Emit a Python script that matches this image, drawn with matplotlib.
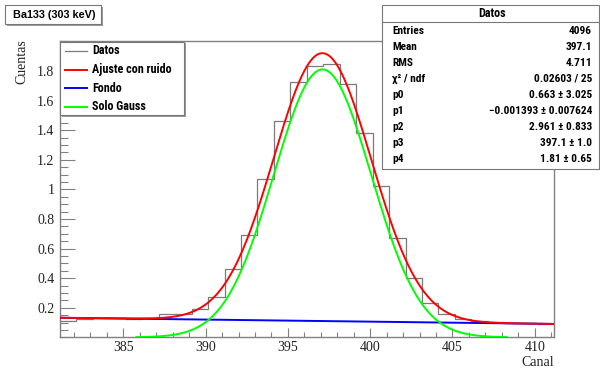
import numpy as np
import matplotlib
matplotlib.use("Agg")
import matplotlib.pyplot as plt
from matplotlib.patches import Rectangle
from matplotlib.lines import Line2D
from matplotlib.ticker import MultipleLocator, FixedLocator

# ---- data ----------------------------------------------------------------
first_edge = 381.15          # low edge of the first bin (bin width = 1 channel)
counts = [0.110, 0.125, 0.128, 0.133, 0.125, 0.133, 0.155, 0.157, 0.190, 0.274,
          0.459, 0.691, 1.068, 1.461, 1.728, 1.831, 1.847, 1.713, 1.378, 1.022,
          0.669, 0.399, 0.230, 0.160, 0.126, 0.112, 0.105, 0.098, 0.095, 0.092]

# fit parameters: p0 + p1*x  +  p4*exp(-0.5*((x-p3)/p2)^2)
p0, p1, p2, p3, p4 = 0.663, -0.001393, 2.961, 397.1, 1.81
fit_range = (381.15, 411.17)
gauss_range = (385.8, 408.3)

x_ticks = [385, 390, 395, 400, 405, 410]
y_ticks = [0.2, 0.4, 0.6, 0.8, 1.0, 1.2, 1.4, 1.6, 1.8]
y_tick_labels = ["0.2", "0.4", "0.6", "0.8", "1", "1.2", "1.4", "1.6", "1.8"]

title_text = "Ba133 (303 keV)"
legend_labels = ["Datos", "Ajuste con ruido", "Fondo", "Solo Gauss"]
stats_title = "Datos"
stats_names = ["Entries", "Mean", "RMS", "\u03c7\u00b2 / ndf", "p0", "p1", "p2", "p3", "p4"]
stats_values = ["4096", "397.1", "4.711", "0.02603 / 25",
                "0.663 \u00b1 3.025", "\u22120.001393 \u00b1 0.007624",
                "2.961 \u00b1 0.833", "397.1 \u00b1 1.0", "1.81 \u00b1 0.65"]

# ---- figure ---------------------------------------------------------------
W, H = 600, 371
fig = plt.figure(figsize=(W / 100, H / 100), dpi=100)
fig.patch.set_facecolor("white")


def fx(x):
    return x / W


def fy(y):
    return 1 - y / H


ax = fig.add_axes([fx(60), fy(337.3), fx(554) - fx(60), fy(41.3) - fy(337.3)])
ax.set_xlim(fit_range)
ax.set_ylim(0, 2.0)

frame_col = "#808080"
for s in ax.spines.values():
    s.set_color(frame_col)
    s.set_linewidth(1.0)

edges = first_edge + np.arange(len(counts) + 1)
ax.stairs(counts, edges, baseline=None, color="#7a7a7a", lw=0.9, zorder=2)

xs = np.linspace(*fit_range, 600)
bkg = p0 + p1 * xs
gauss = lambda x: p4 * np.exp(-0.5 * ((x - p3) / p2) ** 2)
xg = np.linspace(*gauss_range, 500)

line_w = 1.4
ax.plot(xs, bkg + gauss(xs), color="#ff0000", lw=line_w, zorder=4)
ax.plot(xs, bkg, color="#0000ff", lw=line_w, zorder=3)
ax.plot(xg, gauss(xg), color="#00ff00", lw=line_w, zorder=3)

# ticks: inside, only on left and bottom
ax.xaxis.set_major_locator(FixedLocator(x_ticks))
ax.xaxis.set_minor_locator(MultipleLocator(1))
ax.yaxis.set_major_locator(FixedLocator(y_ticks))
ax.yaxis.set_minor_locator(MultipleLocator(0.05))
ax.set_yticklabels(y_tick_labels)
ax.tick_params(axis="x", which="major", direction="in", length=6.5, width=0.8,
               color=frame_col, top=False, pad=3)
ax.tick_params(axis="x", which="minor", direction="in", length=3.3, width=0.8,
               color=frame_col, top=False)
ax.tick_params(axis="y", which="major", direction="in", length=10.8, width=0.8,
               color=frame_col, right=False, pad=4)
ax.tick_params(axis="y", which="minor", direction="in", length=5.4, width=0.8,
               color=frame_col, right=False)
for lab in ax.get_xticklabels() + ax.get_yticklabels():
    lab.set_fontfamily("Liberation Serif")
    lab.set_fontsize(10)
    lab.set_color("#222222")

# axis titles
fig.text(fx(554), fy(362), "Canal", ha="right", va="center",
         family="Liberation Serif", fontsize=10, color="#222222")
fig.text(fx(22), fy(39), "Cuentas", ha="center", va="top", rotation=90,
         family="Liberation Serif", fontsize=10, color="#222222")

cond = ["Roboto Condensed", "DejaVu Sans"]
leg_kw = dict(family=cond, fontweight="bold", fontsize=8.7, color="black", zorder=12)
st_kw = dict(family=cond, fontweight="bold", fontsize=8.2, color="black", zorder=12)


def box(x0, y0, x1, y1, shadow=True, z=10):
    if shadow:
        fig.add_artist(Rectangle((fx(x0) + 1.5 / W, fy(y1) - 1.5 / H),
                                 fx(x1) - fx(x0), fy(y0) - fy(y1),
                                 transform=fig.transFigure, facecolor="#9a9a9a",
                                 edgecolor="none", zorder=z))
    fig.add_artist(Rectangle((fx(x0), fy(y1)), fx(x1) - fx(x0), fy(y0) - fy(y1),
                             transform=fig.transFigure, facecolor="white",
                             edgecolor="#777777", lw=0.8, zorder=z + 0.1))


# title box
box(5, 5, 101, 24)
fig.text(fx(54), fy(14.5), title_text, ha="center", va="center",
         family=["Liberation Sans", "DejaVu Sans"], fontweight="bold",
         fontsize=7.8, color="black", zorder=12)

# legend
box(60, 41.5, 184, 115)
leg_y = [50.5, 69.5, 88, 106.5]
leg_col = ["#7a7a7a", "#ff0000", "#0000ff", "#00ff00"]
leg_lw = [0.9, line_w, line_w, line_w]
for yy, lab, c, lw in zip(leg_y, legend_labels, leg_col, leg_lw):
    fig.add_artist(Line2D([fx(65), fx(87)], [fy(yy), fy(yy)], color=c, lw=lw,
                          transform=fig.transFigure, zorder=12))
    fig.text(fx(92), fy(yy), lab, ha="left", va="center", **leg_kw)

# statistics box
box(381.5, 5, 598.5, 168.5)
fig.add_artist(Line2D([fx(381.5), fx(598.5)], [fy(21.5), fy(21.5)],
                      color="#777777", lw=0.8, transform=fig.transFigure, zorder=12))
fig.text(fx(492), fy(13.5), stats_title, ha="center", va="center", **leg_kw)
row_y = [30.7, 46.6, 62.5, 78.6, 94.8, 110.9, 127.0, 143.0, 159.0]
for yy, name, val in zip(row_y, stats_names, stats_values):
    fig.text(fx(392.5), fy(yy), name, ha="left", va="center", **st_kw)
    fig.text(fx(592), fy(yy), val, ha="right", va="center", **st_kw)

fig.savefig("out.png", dpi=100, facecolor="white")
